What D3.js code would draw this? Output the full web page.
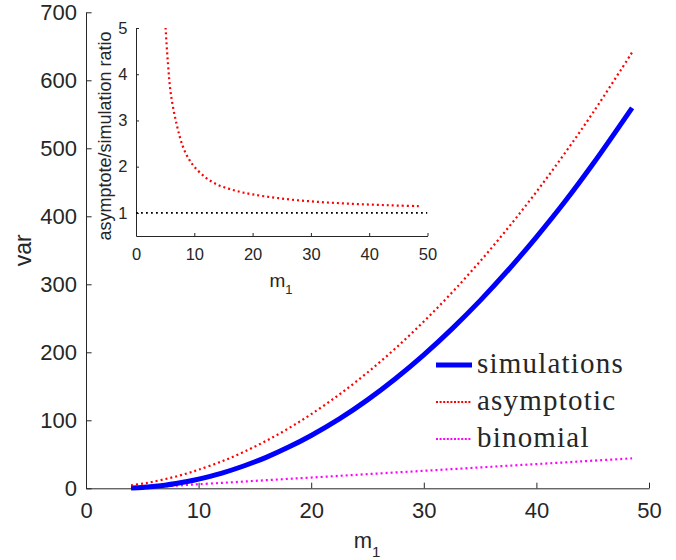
<!DOCTYPE html>
<html>
<head>
<meta charset="utf-8">
<script src="https://cdn.jsdelivr.net/npm/d3@7"></script>
<style>
  body { margin: 0; background: #fff; }
  svg { display: block; }
  text { font-family: "Liberation Sans", Arial, Helvetica, sans-serif; fill: #262626; }
</style>
</head>
<body>
<div id="chart"></div>
<script>
// values
const m1 = [4, 5, 5.5, 6, 7, 8, 9, 10, 12, 14, 16, 18, 20, 22.5, 25, 27.5, 30, 32.5, 35, 37.5, 40, 42.5, 45, 48.5];
const simulations = [0.6, 1.3, 2.0, 2.8, 4.6, 7.0, 10.0, 13.5, 22.0, 32.8, 45.5, 60.6, 77.7, 102, 130, 161.5, 196.3, 234.5, 276, 321, 369.5, 421, 476.5, 559.5];
const asymptotic = [4.4, 6.8, 8.2, 9.8, 13.4, 17.4, 22.1, 27.3, 39.2, 53.4, 69.8, 88.3, 109, 138, 170.3, 206.1, 245.3, 287.8, 333.8, 383.2, 436, 492.2, 551.8, 641];
const binomial = [0, 1, 1.5, 2, 3, 4, 5, 6, 7.9, 9.9, 11.9, 13.9, 15.8, 18.3, 20.8, 23.3, 25.7, 28.2, 30.7, 33.2, 35.6, 38.1, 40.6, 44];
const ratio = [7.5, 5.15, 4.2, 3.55, 2.9, 2.45, 2.18, 2.0, 1.76, 1.61, 1.52, 1.45, 1.40, 1.35, 1.31, 1.275, 1.25, 1.227, 1.21, 1.194, 1.18, 1.169, 1.158, 1.146];

const mainXTicks = [0, 10, 20, 30, 40, 50];
const mainYTicks = [0, 100, 200, 300, 400, 500, 600, 700];
const insetXTicks = [0, 10, 20, 30, 40, 50];
const insetYTicks = [1, 2, 3, 4, 5];
const refLine = [[0, 1], [50, 1]];
const legendNames = ["simulations", "asymptotic", "binomial"];

const W = 676, H = 560;
const svg = d3.select("#chart").append("svg")
  .attr("width", W).attr("height", H);

const axisColor = "#262626";

// main axes
const x = d3.scaleLinear().domain([0, 50]).range([86, 649]);
const y = d3.scaleLinear().domain([0, 700]).range([488.3, 12.3]);

function styleAxis(g, size) {
  g.select(".domain").attr("stroke", axisColor).attr("stroke-width", 1);
  g.selectAll(".tick line").attr("stroke", axisColor);
  g.selectAll(".tick text").attr("fill", axisColor).style("font-size", size + "px");
}

svg.append("g")
  .attr("transform", `translate(0,${y(0)})`)
  .call(d3.axisBottom(x).tickValues(mainXTicks).tickFormat(d3.format("d"))
    .tickSizeInner(-5.6).tickSizeOuter(0).tickPadding(14.5))
  .call(g => styleAxis(g, 22));

svg.append("g")
  .attr("transform", `translate(${x(0)},0)`)
  .call(d3.axisLeft(y).tickValues(mainYTicks).tickFormat(d3.format("d"))
    .tickSizeInner(-5.6).tickSizeOuter(0).tickPadding(9))
  .call(g => styleAxis(g, 22));

const rows = m1.map((m, i) => ({m: m, sim: simulations[i], asym: asymptotic[i], bin: binomial[i], r: ratio[i]}));

const mainLine = key => d3.line().curve(d3.curveCatmullRom.alpha(0.5)).x(d => x(d.m)).y(d => y(d[key]));

svg.append("path").datum(rows)
  .attr("d", mainLine("bin"))
  .attr("fill", "none").attr("stroke", "#ff00ff").attr("stroke-width", 2.2)
  .attr("stroke-dasharray", "2,3");

svg.append("path").datum(rows)
  .attr("d", mainLine("sim"))
  .attr("fill", "none").attr("stroke", "#0000ff").attr("stroke-width", 5);

svg.append("path").datum(rows)
  .attr("d", mainLine("asym"))
  .attr("fill", "none").attr("stroke", "#ff0000").attr("stroke-width", 2.2)
  .attr("stroke-dasharray", "2,3");

// axis labels
svg.append("text")
  .attr("transform", `translate(31,${(y(0) + y(700)) / 2}) rotate(-90)`)
  .attr("text-anchor", "middle")
  .style("font-size", "23px")
  .text("var");

const xl = svg.append("text")
  .attr("x", 367).attr("y", 548)
  .attr("text-anchor", "middle")
  .style("font-size", "22px");
xl.append("tspan").text("m");
xl.append("tspan").attr("dy", 9).style("font-size", "15px").text("1");

// legend
const legendX0 = 436, legendX1 = 472;
const legendY = [365, 402, 439];
const legendStyles = [
  {color: "#0000ff", width: 5, dash: null},
  {color: "#ff0000", width: 2, dash: "2,1.6"},
  {color: "#ff00ff", width: 2, dash: "2,1.6"}
];
legendNames.forEach((name, i) => {
  const st = legendStyles[i];
  svg.append("line")
    .attr("x1", legendX0).attr("x2", legendX1)
    .attr("y1", legendY[i]).attr("y2", legendY[i])
    .attr("stroke", st.color).attr("stroke-width", st.width)
    .attr("stroke-dasharray", st.dash);
  svg.append("text")
    .attr("x", 477).attr("y", legendY[i] + 8)
    .style("font-family", "'Liberation Serif', 'Times New Roman', serif")
    .style("font-size", "29px")
    .style("letter-spacing", "1.2px")
    .attr("fill", "#000")
    .text(name);
});

// inset
const xi = d3.scaleLinear().domain([0, 50]).range([136, 427.5]);
const yi = d3.scaleLinear().domain([0.5, 5]).range([236, 28]);

svg.append("defs").append("clipPath").attr("id", "insetClip")
  .append("rect")
  .attr("x", xi(0)).attr("y", yi(5))
  .attr("width", xi(50) - xi(0)).attr("height", yi(0.5) - yi(5));

svg.append("g")
  .attr("transform", `translate(0,${yi(0.5)})`)
  .call(d3.axisBottom(xi).tickValues(insetXTicks).tickFormat(d3.format("d"))
    .tickSizeInner(-3).tickSizeOuter(0).tickPadding(12))
  .call(g => styleAxis(g, 16.5));

svg.append("g")
  .attr("transform", `translate(${xi(0)},0)`)
  .call(d3.axisLeft(yi).tickValues(insetYTicks).tickFormat(d3.format("d"))
    .tickSizeInner(-3).tickSizeOuter(0).tickPadding(8.5))
  .call(g => styleAxis(g, 16.5));

const ins = svg.append("g").attr("clip-path", "url(#insetClip)");

ins.append("path").datum(refLine)
  .attr("d", d3.line().x(d => xi(d[0])).y(d => yi(d[1])))
  .attr("fill", "none").attr("stroke", "#000").attr("stroke-width", 1.8)
  .attr("stroke-dasharray", "1.8,3.2");

ins.append("path").datum(rows)
  .attr("d", d3.line().curve(d3.curveCatmullRom.alpha(0.5)).x(d => xi(d.m)).y(d => yi(d.r)))
  .attr("fill", "none").attr("stroke", "#ff0000").attr("stroke-width", 2.2)
  .attr("stroke-dasharray", "2,3");

svg.append("text")
  .attr("transform", `translate(111,${(yi(0.5) + yi(5)) / 2 + 4}) rotate(-90)`)
  .attr("text-anchor", "middle")
  .style("font-size", "18px")
  .text("asymptote/simulation ratio");

const xli = svg.append("text")
  .attr("x", 281).attr("y", 287)
  .attr("text-anchor", "middle")
  .style("font-size", "19px");
xli.append("tspan").text("m");
xli.append("tspan").attr("dy", 7).style("font-size", "13px").text("1");
</script>
</body>
</html>
